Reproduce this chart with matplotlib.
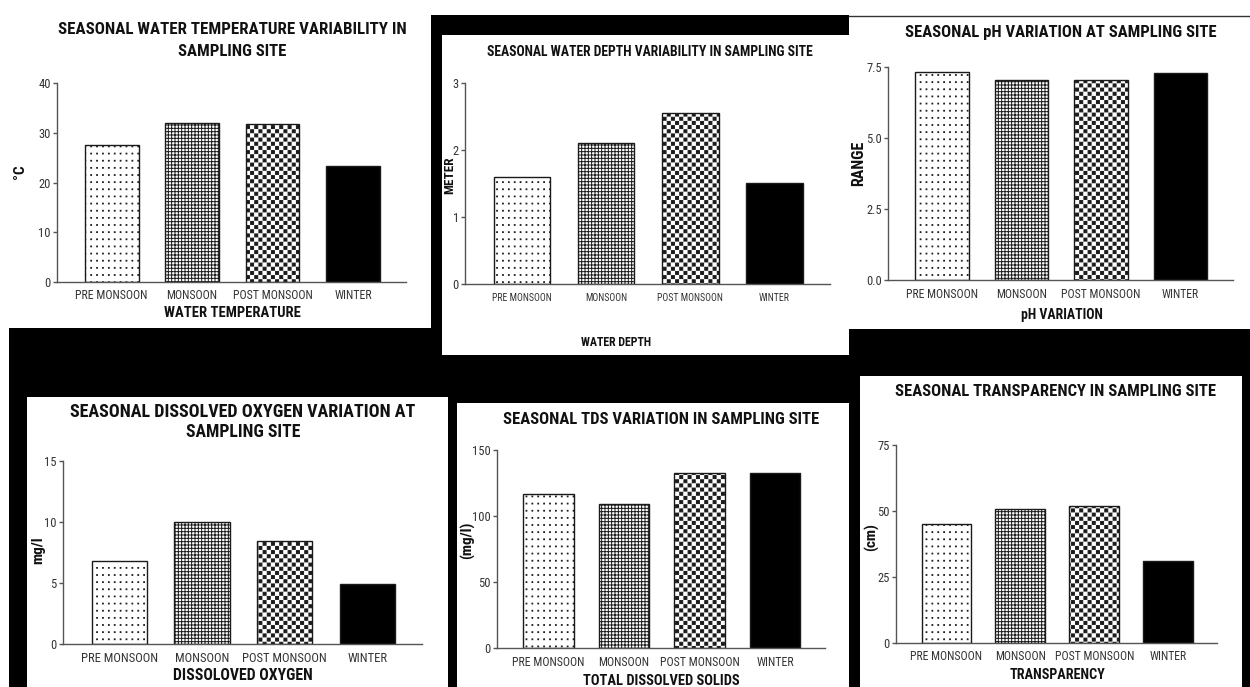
import warnings
warnings.filterwarnings('ignore')
import numpy as np
import matplotlib
matplotlib.use('Agg')
import matplotlib.pyplot as plt
import matplotlib.hatch as mhatch
from matplotlib.path import Path
from matplotlib.patches import Rectangle
from matplotlib.lines import Line2D
from matplotlib import font_manager as fm

# ---------------- data ----------------
seasons = ['PRE MONSOON', 'MONSOON', 'POST MONSOON', 'WINTER']
water_temp = [27.5, 31.9, 31.8, 23.4]
water_depth = [1.59, 2.10, 2.55, 1.51]
ph_values = [7.33, 7.03, 7.03, 7.30]
dissolved_oxygen = [6.83, 10.03, 8.47, 4.92]
tds_values = [116.7, 109.1, 132.3, 132.3]
transparency = [45.1, 50.9, 51.8, 31.2]

temp_ticks = [0, 10, 20, 30, 40]
depth_ticks = [0, 1, 2, 3]
ph_ticks = [0.0, 2.5, 5.0, 7.5]
do_ticks = [0, 5, 10, 15]
tds_ticks = [0, 50, 100, 150]
trans_ticks = [0, 25, 50, 75]

# ---------------- fonts ----------------
names = {f.name for f in fm.fontManager.ttflist}
FONT = 'Liberation Sans'
for cand in ['Liberation Sans Narrow', 'Arial Narrow', 'Roboto Condensed',
             'Open Sans Condensed', 'Liberation Sans']:
    if cand in names:
        FONT = cand
        break
plt.rcParams['font.family'] = [FONT, 'DejaVu Sans']
plt.rcParams['hatch.linewidth'] = 0.7


# ---------------- custom hatches (checkerboard / dot grid) ----------------
class _CheckerHatch(mhatch.HatchPatternBase):
    def __init__(self, hatch, density):
        n = 24 * hatch.count('c')
        self.n = n
        self.cells = [(i, j) for i in range(n) for j in range(n) if (i + j) % 2 == 0]
        self.num_vertices = 5 * len(self.cells)

    def set_vertices_and_codes(self, vertices, codes):
        s = 1.0 / self.n
        h = 0.36 * s
        sq = np.array([[-h, -h], [h, -h], [h, h], [-h, h], [-h, -h]])
        cc = [Path.MOVETO, Path.LINETO, Path.LINETO, Path.LINETO, Path.CLOSEPOLY]
        for k, (i, j) in enumerate(self.cells):
            vertices[5 * k:5 * k + 5] = sq + [(i + 0.5) * s, (j + 0.5) * s]
            codes[5 * k:5 * k + 5] = cc


class _DotGridHatch(mhatch.HatchPatternBase):
    def __init__(self, hatch, density):
        k = hatch.count('d')
        self.nx = 17 * k
        self.ny = 14 * k
        self.cells = [(i, j) for i in range(self.nx) for j in range(self.ny)]
        self.num_vertices = 5 * len(self.cells)

    def set_vertices_and_codes(self, vertices, codes):
        sx = 1.0 / self.nx
        sy = 1.0 / self.ny
        h = 0.004
        sq = np.array([[-h, -h], [h, -h], [h, h], [-h, h], [-h, -h]])
        cc = [Path.MOVETO, Path.LINETO, Path.LINETO, Path.LINETO, Path.CLOSEPOLY]
        for k, (i, j) in enumerate(self.cells):
            vertices[5 * k:5 * k + 5] = sq + [(i + 0.5) * sx, (j + 0.5) * sy]
            codes[5 * k:5 * k + 5] = cc


mhatch._hatch_types.append(_CheckerHatch)
mhatch._hatch_types.append(_DotGridHatch)

bar_faces = ['white', 'white', 'white', 'black']
bar_hatches = ['d', '+++++', 'c', None]

# ---------------- figure ----------------
W, H = 1250, 687
fig = plt.figure(figsize=(12.5, 6.87), dpi=100, facecolor='black')
renderer = fig.canvas.get_renderer()


def fx(x):
    return x / W


def fy(y):
    return 1 - y / H


def white_box(x0, y0, x1, y1):
    fig.patches.append(Rectangle((fx(x0), fy(y1)), (x1 - x0) / W, (y1 - y0) / H,
                                 transform=fig.transFigure, facecolor='white',
                                 edgecolor='none', zorder=-5))


for b in [(0, 0, 1250, 15), (0, 0, 431, 328), (0, 328, 9, 687),
          (442, 35, 849, 355), (849, 15, 1250, 329),
          (27, 397, 448, 687), (457, 403, 849, 687), (860, 376, 1242, 687)]:
    white_box(*b)
fig.lines.append(Line2D([fx(849), fx(1250)], [fy(15.5), fy(15.5)],
                        transform=fig.transFigure, color='#333333', lw=1.0,
                        zorder=-4))


def fit_text(s, x, y, target, size=12, rotation=0, weight='bold',
             color='#111111', boost=1.05, fixed=None):
    t = fig.text(fx(x), fy(y), s, ha='center', va='center', fontsize=size,
                 rotation=rotation, fontweight=weight, color=color, zorder=5)
    if fixed is not None:
        t.set_fontsize(fixed)
        return t
    bb = t.get_window_extent(renderer)
    length = bb.height if rotation else bb.width
    t.set_fontsize(size * target / length * boost)
    return t


panels = [
    dict(vals=water_temp, ticks=temp_ticks, fmt='{:g}', box=(57, 83, 406, 282),
         titles=[('SEASONAL WATER TEMPERATURE VARIABILITY IN', 232, 30, 330),
                 ('SAMPLING SITE', 232, 52, 103)],
         xlabel=('WATER TEMPERATURE', 232, 313, 130),
         ylabel=('°C', 20, 172, 11), cat=(295, 71)),
    dict(vals=water_depth, ticks=depth_ticks, fmt='{:g}', box=(465, 83, 830, 284),
         titles=[('SEASONAL WATER DEPTH VARIABILITY IN SAMPLING SITE', 650, 52, 309)],
         xlabel=('WATER DEPTH', 616, 342, 67),
         ylabel=('METER', 450, 175, 9.5), cat=(298, 58)),
    dict(vals=ph_values, ticks=ph_ticks, fmt='{:.1f}', box=(888, 67, 1233, 280),
         titles=[('SEASONAL pH VARIATION AT SAMPLING SITE', 1061, 33, 296)],
         xlabel=('pH VARIATION', 1062, 315, 78),
         ylabel=('RANGE', 859, 163, 11.5), cat=(295, 70)),
    dict(vals=dissolved_oxygen, ticks=do_ticks, fmt='{:g}', box=(63, 461, 422, 644),
         titles=[('SEASONAL DISSOLVED OXYGEN VARIATION AT', 243, 412, 327),
                 ('SAMPLING SITE', 243, 432, 109)],
         xlabel=('DISSOLOVED OXYGEN', 243, 675, 133),
         ylabel=('mg/l', 38, 550, 11), cat=(658, 75)),
    dict(vals=tds_values, ticks=tds_ticks, fmt='{:g}', box=(497, 450, 825, 648),
         titles=[('SEASONAL TDS VARIATION IN SAMPLING SITE', 661, 419, 300)],
         xlabel=('TOTAL DISSOLVED SOLIDS', 661, 681, 150),
         ylabel=('(mg/l)', 468, 540, 11), cat=(663, 71)),
    dict(vals=transparency, ticks=trans_ticks, fmt='{:g}', box=(896, 445, 1217, 643),
         titles=[('SEASONAL TRANSPARENCY IN SAMPLING SITE', 1056, 392, 306)],
         xlabel=('TRANSPARENCY', 1057, 675, 91),
         ylabel=('(cm)', 872, 537, 11), cat=(657, 70)),
]

for p in panels:
    x0, y0, x1, y1 = p['box']
    ax = fig.add_axes([fx(x0), fy(y1), (x1 - x0) / W, (y1 - y0) / H])
    ax.set_facecolor('none')
    pos = np.arange(len(seasons))
    bars = ax.bar(pos, p['vals'], width=0.67, color=bar_faces,
                  edgecolor='#1a1a1a', linewidth=1.0, zorder=2)
    for bar, hatch in zip(bars, bar_hatches):
        if hatch:
            bar.set_hatch(hatch)
    ax.set_xlim(-0.68, 3.66)
    ax.set_ylim(p['ticks'][0], p['ticks'][-1])
    for s in ['top', 'right']:
        ax.spines[s].set_visible(False)
    for s in ['left', 'bottom']:
        ax.spines[s].set_color('#555555')
        ax.spines[s].set_linewidth(1.0)
    ax.set_yticks(p['ticks'], labels=[p['fmt'].format(t) for t in p['ticks']])
    ax.tick_params(axis='y', length=3, width=1, color='#555555', labelsize=9,
                   labelcolor='#333333', pad=1.5)
    ax.set_xticks(pos, labels=seasons)
    # fit category label size
    lab0 = ax.get_xticklabels()[0]
    lab0.set_fontsize(10)
    w = lab0.get_window_extent(renderer).width
    cs = 10 * p['cat'][1] / w * 1.03
    for lab in ax.get_xticklabels():
        lab.set_fontsize(cs)
        lab.set_color('#333333')
    hgt = lab0.get_window_extent(renderer).height
    off = (p['cat'][0] - y1) - hgt / 2
    ax.tick_params(axis='x', length=0, pad=off * 0.72)

    for (s, tx, ty, tw) in p['titles']:
        fit_text(s, tx, ty, tw)
    s, tx, ty, tw = p['xlabel']
    fit_text(s, tx, ty, tw)
    s, tx, ty, fs = p['ylabel']
    fit_text(s, tx, ty, 0, rotation=90, fixed=fs)

fig.savefig('out.png', dpi=100, facecolor=fig.get_facecolor())
